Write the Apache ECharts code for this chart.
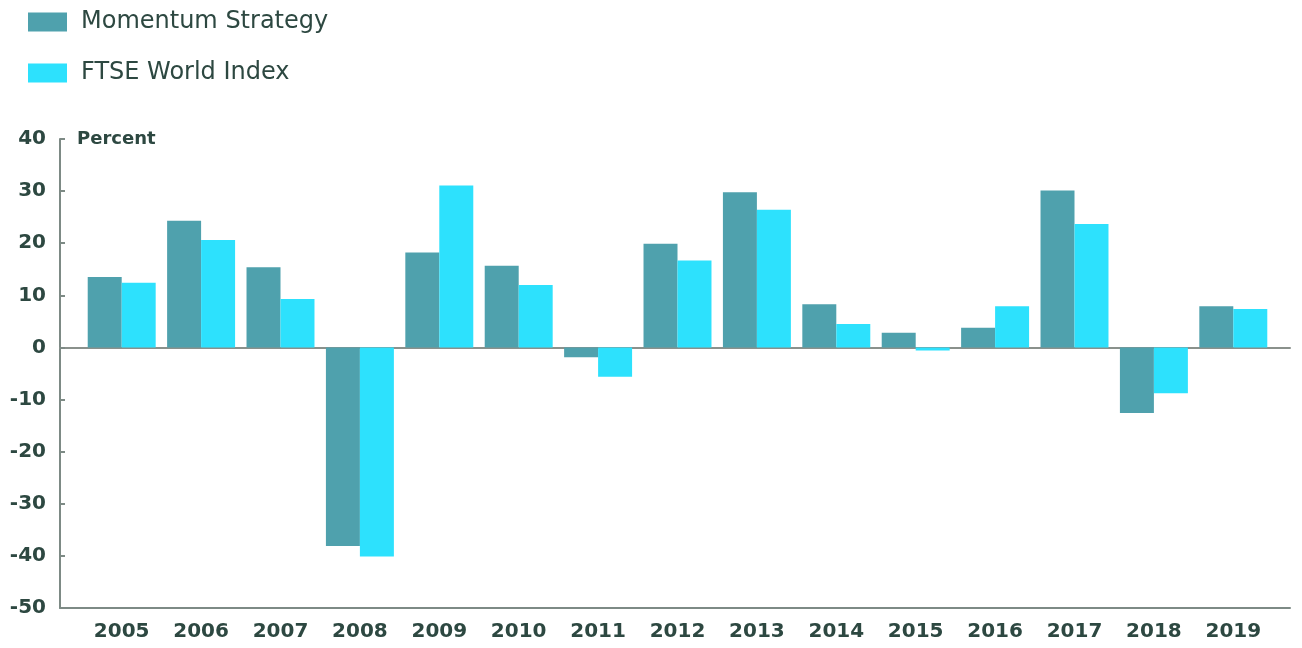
<!DOCTYPE html>
<html>
<head>
<meta charset="utf-8">
<script src="https://cdn.jsdelivr.net/npm/echarts@6/dist/echarts.min.js"></script>
<style>
html,body{margin:0;padding:0;background:#fff;}
#c{width:1302px;height:648px;}
</style>
</head>
<body>
<div id="c"></div>
<script>
const years = ['2005','2006','2007','2008','2009','2010','2011','2012','2013','2014','2015','2016','2017','2018','2019'];
const momentum = [13.5, 24.3, 15.4, -38.1, 18.2, 15.7, -1.9, 19.9, 29.8, 8.3, 2.8, 3.8, 30.1, -12.6, 7.9];
const ftse = [12.4, 20.6, 9.3, -40.1, 31.1, 12.0, -5.6, 16.7, 26.4, 4.5, -0.6, 7.9, 23.7, -8.8, 7.4];
const yTicks = { min: -50, max: 40, interval: 10 };
const seriesNames = ['Momentum Strategy', 'FTSE World Index'];

const textColor = '#2d4841';
const axisColor = '#7d8a85';
const chart = echarts.init(document.getElementById('c'), null, { renderer: 'canvas' });
const gridTop = 139, gridHeight = 469;

chart.setOption({
  animation: false,
  backgroundColor: '#ffffff',
  color: ['#4fa1ad', '#2de1fd'],
  legend: {
    orient: 'vertical',
    left: 28,
    top: 10,
    padding: 0,
    itemWidth: 39,
    itemHeight: 19,
    itemGap: 27,
    icon: 'rect',
    selectedMode: false,
    textStyle: { fontFamily: 'DejaVu Sans', fontSize: 24, color: textColor, padding: [2, 0, 0, 9] },
    data: seriesNames
  },
  grid: [
    { left: 82, right: 29, top: gridTop, height: gridHeight },
    { left: 60, right: 12, top: gridTop, height: gridHeight }
  ],
  xAxis: [
    {
      type: 'category', gridIndex: 0, data: years,
      axisLine: { show: false }, axisTick: { show: false },
      axisLabel: { fontFamily: 'DejaVu Sans', fontWeight: 'bold', fontSize: 20, color: textColor, margin: 14 }
    },
    {
      type: 'value', gridIndex: 1, position: 'bottom', min: 0, max: 1,
      axisLine: { show: true, onZero: false, lineStyle: { color: axisColor, width: 2 } },
      axisTick: { show: false }, axisLabel: { show: false }, splitLine: { show: false }
    },
    {
      type: 'value', gridIndex: 1, position: 'top', min: 0, max: 1,
      axisLine: { show: true, onZero: true, lineStyle: { color: '#8a918c', width: 2 } },
      axisTick: { show: false }, axisLabel: { show: false }, splitLine: { show: false }
    }
  ],
  yAxis: [
    {
      type: 'value', gridIndex: 0, min: yTicks.min, max: yTicks.max, interval: yTicks.interval,
      show: false
    },
    {
      type: 'value', gridIndex: 1, min: yTicks.min, max: yTicks.max, interval: yTicks.interval,
      name: 'Percent', nameLocation: 'end', nameGap: 0,
      nameTextStyle: { fontFamily: 'DejaVu Sans', fontWeight: 'bold', fontSize: 18, color: textColor, align: 'left', verticalAlign: 'middle', padding: [0, 0, 0, 17] },
      axisLine: { show: true, lineStyle: { color: axisColor, width: 2 } },
      axisTick: { show: true, inside: true, length: 5, lineStyle: { color: axisColor, width: 2 } },
      axisLabel: { fontFamily: 'DejaVu Sans', fontWeight: 'bold', fontSize: 20, color: textColor, margin: 14 },
      splitLine: { show: false }
    }
  ],
  series: [
    { name: seriesNames[0], type: 'bar', xAxisIndex: 0, yAxisIndex: 0, data: momentum, barGap: '0%', barCategoryGap: '14.4%' },
    { name: seriesNames[1], type: 'bar', xAxisIndex: 0, yAxisIndex: 0, data: ftse, barGap: '0%', barCategoryGap: '14.4%' }
  ]
});
</script>
</body>
</html>
